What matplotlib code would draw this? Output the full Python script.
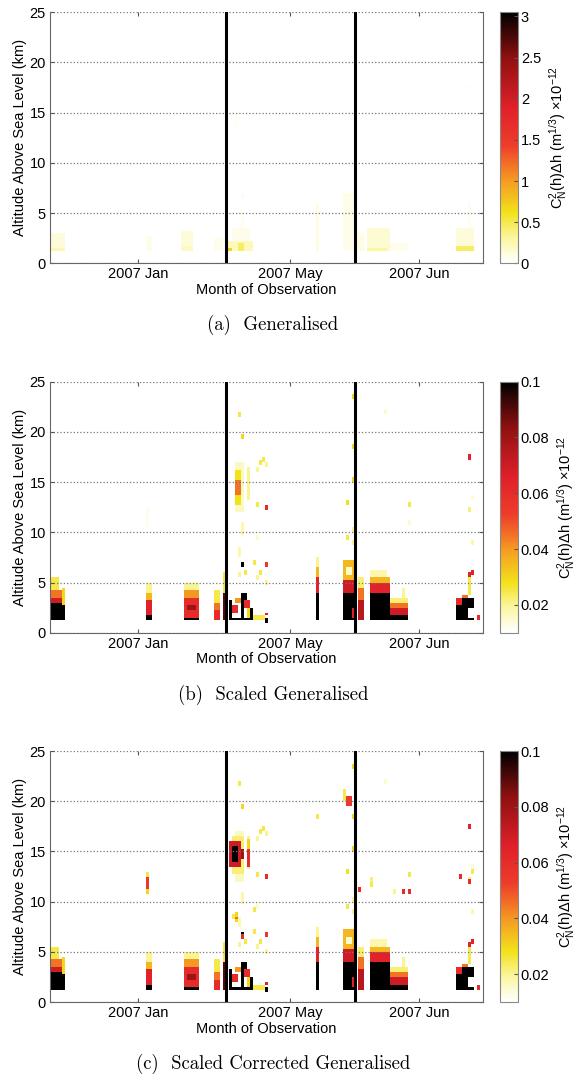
import numpy as np
import matplotlib
matplotlib.use('Agg')
import matplotlib.pyplot as plt
from matplotlib.colors import LinearSegmentedColormap

plt.rcParams['font.family'] = ['Liberation Sans', 'DejaVu Sans']
plt.rcParams['mathtext.fontset'] = 'custom'
plt.rcParams['mathtext.rm'] = 'Liberation Sans'
plt.rcParams['mathtext.it'] = 'Liberation Sans:italic'

# observation nights on x (index), altitude bins on y
n_nights = 145
alt_step = 0.25
alt_top = 25
site_breaks = [59, 102]
month_ticks = [29.5, 80.5, 123.5]
month_labels = ['2007 Jan', '2007 May', '2007 Jun']

# patches: (first night, last night excl., alt low km, alt high km, value)
gen_patches = [
    (0, 5, 1.2, 3.0, 0.12), (0, 5, 1.2, 1.6, 0.25),
    (32, 34, 1.2, 2.8, 0.07),
    (44, 48, 1.2, 3.2, 0.12), (44, 48, 1.2, 1.7, 0.2),
    (55, 58, 1.2, 2.5, 0.06),
    (61, 67, 2.3, 3.5, 0.07), (64, 65, 3.5, 5.0, 0.05),
    (59, 68, 1.2, 2.3, 0.22), (59, 61, 1.2, 1.6, 0.7), (63, 65, 1.2, 2.0, 0.45),
    (64, 65, 6.6, 7.1, 0.05), (62, 63, 13.5, 15.0, 0.04),
    (89, 90, 1.2, 6.0, 0.1),
    (98, 102, 1.2, 7.0, 0.08),
    (103, 105, 1.2, 3.0, 0.1),
    (106, 114, 1.2, 3.4, 0.15), (106, 113, 1.2, 1.6, 0.3),
    (114, 120, 1.2, 2.0, 0.08),
    (136, 142, 1.7, 3.6, 0.12), (136, 142, 1.2, 1.7, 0.45), (140, 141, 3.6, 6.0, 0.05),
    (140, 141, 17.2, 17.7, 0.05),
]

scaled_patches = [
    # January
    (0, 4, 1.2, 2.9, 0.1), (0, 4, 2.9, 3.5, 0.07), (0, 4, 3.5, 4.3, 0.045),
    (0, 3, 4.3, 5.6, 0.025), (4, 5, 1.2, 2.7, 0.1), (4, 5, 2.7, 4.6, 0.03),
    (32, 34, 1.2, 1.7, 0.1), (32, 34, 1.7, 3.2, 0.065), (32, 34, 3.2, 4.0, 0.035),
    (32, 34, 4.0, 4.9, 0.02), (32, 33, 10.6, 12.5, 0.012),
    (45, 50, 1.2, 1.6, 0.1), (45, 50, 1.6, 3.4, 0.06), (46, 49, 2.2, 2.8, 0.08),
    (45, 50, 3.4, 4.2, 0.04), (45, 50, 4.2, 5.0, 0.02),
    (55, 57, 1.2, 2.2, 0.06), (55, 57, 2.2, 3.0, 0.045), (55, 57, 3.0, 4.3, 0.025),
    (58, 59, 1.2, 3.9, 0.09), (58, 59, 3.9, 6.0, 0.025),
    # May
    (60, 68, 1.2, 1.6, 0.1), (60, 61, 1.6, 3.2, 0.1), (61, 63, 2.0, 2.8, 0.06),
    (62, 64, 3.0, 3.6, 0.04), (64, 65, 1.6, 3.6, 0.1), (64, 66, 3.3, 4.0, 0.1),
    (65, 67, 2.4, 3.2, 0.06), (66, 67, 1.6, 2.4, 0.03), (67, 68, 1.6, 2.4, 0.1),
    (68, 72, 1.3, 1.7, 0.025), (72, 73, 1.1, 1.4, 0.1), (72, 73, 1.7, 2.1, 0.065),
    (63, 64, 7.5, 8.5, 0.018), (64, 65, 9.7, 11.0, 0.018),
    (62, 65, 12.0, 17.0, 0.016), (62, 64, 12.8, 16.2, 0.028), (62, 64, 13.7, 15.3, 0.045),
    (66, 67, 13.2, 16.5, 0.02),
    (89, 90, 1.2, 4.1, 0.1), (89, 90, 4.1, 5.6, 0.065), (89, 90, 5.6, 6.5, 0.035),
    (89, 90, 6.5, 7.5, 0.02),
    (98, 102, 1.2, 4.1, 0.1), (98, 102, 4.1, 5.3, 0.07), (98, 102, 5.3, 7.3, 0.035),
    (99, 101, 5.8, 6.6, 0.015), (101, 102, 1.6, 2.6, 0.065),
    # June
    (103, 105, 1.2, 3.2, 0.075), (103, 105, 3.2, 4.4, 0.045), (103, 105, 4.4, 5.5, 0.022),
    (107, 114, 1.2, 4.1, 0.1), (107, 114, 4.1, 4.9, 0.065), (107, 114, 4.9, 5.6, 0.035),
    (107, 113, 5.6, 6.3, 0.018),
    (114, 120, 1.2, 1.7, 0.1), (114, 120, 1.7, 2.4, 0.07), (114, 120, 2.4, 3.0, 0.045),
    (114, 120, 3.0, 3.6, 0.022), (118, 119, 3.6, 4.4, 0.02),
    (136, 142, 1.2, 2.8, 0.1), (140, 142, 1.6, 2.4, 0.0), (137, 142, 2.8, 3.4, 0.1),
    (136, 138, 2.8, 3.6, 0.06), (138, 140, 3.4, 3.8, 0.045), (140, 141, 3.8, 5.6, 0.025),
]

# single cells: (night, altitude km, value)
scaled_dots = [
    (64, 6.8, 0.1), (65, 6.1, 0.025), (63, 5.8, 0.02), (68, 7.1, 0.025), (72, 6.8, 0.055),
    (70, 6.0, 0.025), (69, 5.5, 0.02), (72, 5.0, 0.02),
    (63, 21.8, 0.025), (64, 19.4, 0.03), (71, 17.2, 0.025), (70, 17.0, 0.025),
    (72, 16.8, 0.02), (69, 16.3, 0.02), (69, 12.7, 0.025), (72, 12.6, 0.06), (69, 9.4, 0.015),
    (101, 23.5, 0.03), (101, 18.5, 0.03), (101, 15.3, 0.03), (99, 13.0, 0.028),
    (101, 10.3, 0.02), (99, 9.4, 0.025), (101, 8.9, 0.02),
    (120, 12.8, 0.025), (120, 11.0, 0.015), (112, 21.9, 0.015), (140, 12.2, 0.022),
    (141, 9.0, 0.018), (141, 13.5, 0.014), (140, 17.4, 0.065),
    (143, 1.5, 0.06), (140, 5.7, 0.065), (141, 6.1, 0.065),
]

corrected_patches = [
    (32, 33, 10.8, 11.3, 0.03), (32, 33, 11.3, 12.5, 0.055), (32, 33, 12.5, 13.0, 0.025),
    (61, 65, 12.8, 16.5, 0.022), (60, 64, 13.5, 16.0, 0.07), (61, 63, 14.0, 15.5, 0.1),
    (64, 65, 14.2, 15.3, 0.08), (66, 67, 13.6, 15.2, 0.06), (66, 67, 15.2, 16.2, 0.03),
    (62, 63, 8.0, 8.9, 0.03), (62, 63, 8.2, 8.6, 0.045), (61, 62, 8.3, 8.7, 0.025),
    (99, 101, 19.6, 20.6, 0.055), (98, 99, 20.0, 21.3, 0.025),
]

corrected_dots = [
    (64, 6.6, 0.06), (68, 9.3, 0.025), (89, 18.5, 0.025),
    (103, 11.2, 0.06), (107, 11.8, 0.025), (107, 12.3, 0.022),
    (118, 11.1, 0.06), (120, 11.0, 0.06), (120, 12.8, 0.025), (115, 11.0, 0.02),
    (137, 12.5, 0.06), (140, 12.1, 0.06), (141, 13.0, 0.025),
]

panel_titles = ['(a)  Generalised', '(b)  Scaled Generalised',
                '(c)  Scaled Corrected Generalised']
cbar_ticks = [[0, 0.5, 1, 1.5, 2, 2.5, 3],
              [0.02, 0.04, 0.06, 0.08, 0.1],
              [0.02, 0.04, 0.06, 0.08, 0.1]]
cbar_ticklabels = [['0', '0.5', '1', '1.5', '2', '2.5', '3'],
                   ['0.02', '0.04', '0.06', '0.08', '0.1'],
                   ['0.02', '0.04', '0.06', '0.08', '0.1']]
cbar_limits = [(0, 3.05), (0.01, 0.1), (0.01, 0.1)]


def build(patches, dots):
    nrow = int(alt_top / alt_step)
    grid = np.zeros((nrow, n_nights))
    mid = (np.arange(nrow) + 0.5) * alt_step
    for c0, c1, h0, h1, v in patches:
        rows = (mid >= h0) & (mid < h1)
        grid[rows, c0:c1] = v
    for c, h, v in dots:
        rows = (mid >= h - 0.25) & (mid < h + 0.25)
        grid[rows, c] = v
    return grid


grids = [build(gen_patches, []),
         build(scaled_patches, scaled_dots),
         build(scaled_patches + corrected_patches, scaled_dots + corrected_dots)]

cmap = LinearSegmentedColormap.from_list('whot', [
    (0.0, '#ffffff'), (0.1, '#fbf6a0'), (0.2, '#f2e21a'), (0.33, '#f59a22'),
    (0.47, '#ee3d2b'), (0.62, '#e0202a'), (0.82, '#8e1010'), (1.0, '#000000')])
cmap.set_under('white')

fig = plt.figure(figsize=(5.81, 10.79), dpi=100)
W, H = 581.0, 1079.0
x_edges = np.arange(n_nights + 1)
y_edges = np.arange(int(alt_top / alt_step) + 1) * alt_step

for i in range(3):
    top = 12.3 + i * 369.4
    bottom = top + 251
    ax = fig.add_axes([50 / W, 1 - bottom / H, 433 / W, 251 / H])
    cax = fig.add_axes([500 / W, 1 - bottom / H, 18 / W, 251 / H])
    vmin, vmax = cbar_limits[i]
    mesh = ax.pcolormesh(x_edges, y_edges, grids[i], cmap=cmap, vmin=vmin, vmax=vmax,
                         shading='flat', rasterized=True)
    for b in site_breaks:
        ax.axvline(b, color='black', lw=2.2, zorder=4)
    ax.set_xlim(0, n_nights)
    ax.set_ylim(0, 25)
    ax.set_yticks([0, 5, 10, 15, 20, 25])
    ax.set_xticks(month_ticks)
    ax.set_xticklabels(month_labels)
    ax.yaxis.grid(True, linestyle=':', color='#777777', linewidth=0.9)
    ax.tick_params(direction='in', top=True, right=True, length=3, labelsize=10.5,
                   color='#555555', pad=3)
    for s in ax.spines.values():
        s.set_color('#666666')
        s.set_linewidth(0.8)
    ax.spines['top'].set_visible(False)
    ax.set_ylabel('Altitude Above Sea Level (km)', fontsize=10.5, labelpad=2)
    ax.set_xlabel('Month of Observation', fontsize=10.5, labelpad=1)

    cb = fig.colorbar(mesh, cax=cax, ticks=cbar_ticks[i])
    cb.ax.set_yticklabels(cbar_ticklabels[i])
    cb.ax.tick_params(direction='in', length=3, labelsize=10.5, color='#555555', pad=2)
    cb.outline.set_edgecolor('#888888')
    cb.outline.set_linewidth(0.8)
    cb.set_label(r'C$^2_{\rm N}$(h)Δh (m$^{1/3}$) ×10$^{-12}$', fontsize=10.5, labelpad=4)

    fig.text(273 / W, 1 - (top + 313) / H, panel_titles[i], family='cmr10',
             fontsize=13.5, ha='center', va='center')

fig.savefig('out.png', dpi=100)
